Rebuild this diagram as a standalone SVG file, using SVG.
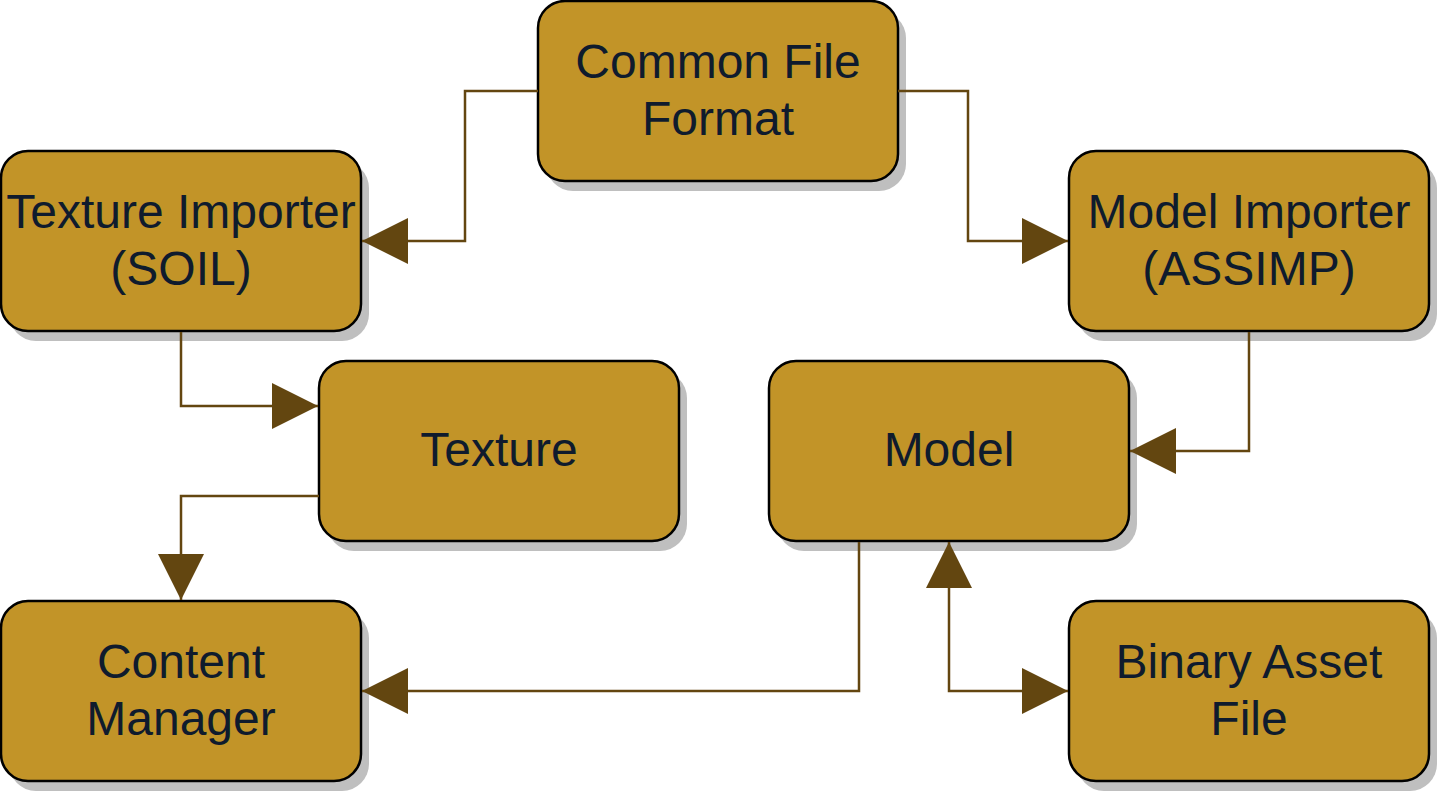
<svg xmlns="http://www.w3.org/2000/svg" width="1437" height="792" viewBox="0 0 1437 792">
<defs>
<style>
.box{fill:#C29428;stroke:#000;stroke-width:2.5}
.shadow{fill:#BFBFBF}
.t{font-family:"Liberation Sans",Arial,sans-serif;font-size:48px;fill:#0F1B2D;text-anchor:middle}
.e{fill:none;stroke:#634610;stroke-width:2.5}
</style>
<marker id="arr" markerUnits="userSpaceOnUse" markerWidth="46" markerHeight="46" viewBox="0 0 44 44" refX="44" refY="22" orient="auto-start-reverse">
<path d="M0,0 L44,22 L0,44 Z" fill="#634610"/>
</marker>
</defs>
<rect width="1437" height="792" fill="#fff"/>
<g id="common-file-format">
<rect class="shadow" x="546" y="11" width="360" height="180" rx="27"/>
<rect class="box" x="538" y="1" width="360" height="180" rx="27"/>
<text class="t" x="718" y="77.5">Common File</text>
<text class="t" x="718" y="135">Format</text>
</g>
<g id="texture-importer">
<rect class="shadow" x="9" y="161" width="360" height="180" rx="27"/>
<rect class="box" x="1" y="151" width="360" height="180" rx="27"/>
<text class="t" x="181" y="227.5">Texture Importer</text>
<text class="t" x="181" y="285">(SOIL)</text>
</g>
<g id="model-importer">
<rect class="shadow" x="1077" y="161" width="360" height="180" rx="27"/>
<rect class="box" x="1069" y="151" width="360" height="180" rx="27"/>
<text class="t" x="1249" y="227.5">Model Importer</text>
<text class="t" x="1249" y="285">(ASSIMP)</text>
</g>
<g id="texture">
<rect class="shadow" x="327" y="371" width="360" height="180" rx="27"/>
<rect class="box" x="319" y="361" width="360" height="180" rx="27"/>
<text class="t" x="499" y="466">Texture</text>
</g>
<g id="model">
<rect class="shadow" x="777" y="371" width="360" height="180" rx="27"/>
<rect class="box" x="769" y="361" width="360" height="180" rx="27"/>
<text class="t" x="949" y="466">Model</text>
</g>
<g id="content-manager">
<rect class="shadow" x="9" y="611" width="360" height="180" rx="27"/>
<rect class="box" x="1" y="601" width="360" height="180" rx="27"/>
<text class="t" x="181" y="677.5">Content</text>
<text class="t" x="181" y="735">Manager</text>
</g>
<g id="binary-asset-file">
<rect class="shadow" x="1077" y="611" width="360" height="180" rx="27"/>
<rect class="box" x="1069" y="601" width="360" height="180" rx="27"/>
<text class="t" x="1249" y="677.5">Binary Asset</text>
<text class="t" x="1249" y="735">File</text>
</g>
<g id="connectors">
<path class="e" d="M538,91 H465 V241 H362" marker-end="url(#arr)"/>
<path class="e" d="M898,91 H968 V241 H1068" marker-end="url(#arr)"/>
<path class="e" d="M181,332 V406 H318" marker-end="url(#arr)"/>
<path class="e" d="M319,496 H181 V600" marker-end="url(#arr)"/>
<path class="e" d="M1249,332 V451 H1130" marker-end="url(#arr)"/>
<path class="e" d="M859,542 V691 H362" marker-end="url(#arr)"/>
<path class="e" d="M949,542 V691 H1068" marker-start="url(#arr)" marker-end="url(#arr)"/>
</g>
</svg>
